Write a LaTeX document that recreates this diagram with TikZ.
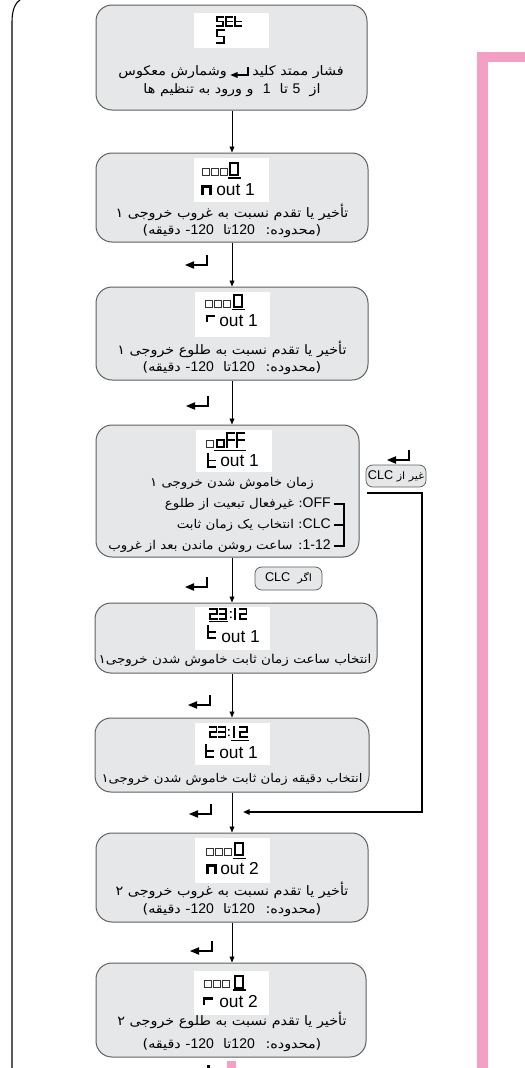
\documentclass[tikz,border=0pt]{standalone}
\usepackage{fontspec}
\setmainfont{Liberation Sans}
\newfontfamily\fa[Script=Arabic,FakeStretch=1.1]{DejaVu Sans}
\TeXXeTstate=1
\usetikzlibrary{arrows.meta,fit}
\definecolor{boxfill}{RGB}{230,231,232}
\definecolor{boxline}{RGB}{95,95,95}
\definecolor{pinkc}{RGB}{244,160,196}
\newcommand\fatext{\fa\fontsize{9.8}{11}\selectfont}
\newcommand\fasmall{\fa\fontsize{9.1}{11}\selectfont}
\newcommand\lat[1]{{\rmfamily\fontsize{10.5}{11}\selectfont #1}}
\newcommand\latl[1]{{\rmfamily\fontsize{9.5}{10}\selectfont #1}}
\newcommand\sga{\draw (0,0)--(\SW,0);}
\newcommand\sgb{\draw (\SW,0)--(\SW,\SH/2);}
\newcommand\sgc{\draw (\SW,\SH/2)--(\SW,\SH);}
\newcommand\sgd{\draw (0,\SH)--(\SW,\SH);}
\newcommand\sge{\draw (0,\SH/2)--(0,\SH);}
\newcommand\sgf{\draw (0,0)--(0,\SH/2);}
\newcommand\sgg{\draw (0,\SH/2)--(\SW,\SH/2);}
\newcommand\dseg[6]{\begin{scope}[shift={(#1,#2)},line cap=rect,#6]\def\SW{#3}\def\SH{#4}\foreach \s in {#5}{\csname sg\s\endcsname}\end{scope}}
\newcommand\sqr[2]{\draw[line width=0.45pt,black!80] (#1,#2) rectangle ++(7,7);}
\tikzset{
  stepbox/.style={draw=boxline, fill=boxfill, line width=0.75pt, rounded corners=12pt, inner sep=0pt},
  lblbox/.style={draw=boxline, fill=boxfill, line width=0.6pt, rounded corners=5pt, inner sep=0pt},
  disp/.style={fill=white, draw=none, inner sep=0pt},
  flow/.style={-{Triangle[length=4.5pt,width=3.6pt]}, line width=0.7pt},
  loopline/.style={line width=1.3pt},
  txt/.style={inner sep=0pt, font=\fatext},
  lbltxt/.style={inner sep=0pt, font=\fa\fontsize{7.6}{9}\selectfont},
  outtxt/.style={inner sep=0pt, anchor=west, font=\rmfamily\fontsize{13}{13}\selectfont},
  thin7/.style={line width=0.85pt},
  bold7/.style={line width=1.5pt},
  pics/enterkey/.style={code={
    \draw[line width=1.5pt] (0,-10)--(0,0)--(-14,0);
    \fill (-13,-3.8)--(-22,0)--(-13,3.8)--cycle;}}
}
\begin{document}
\begin{tikzpicture}[x=0.75pt,y=-0.75pt]
\useasboundingbox (0,0) rectangle (525,1068);
% frame and decorations
\draw[line width=0.8pt] (12,1068) -- (12,22) .. controls (12,10) and (15,3) .. (21,-1);
\fill[pinkc] (477,52) rectangle (525,62);
\fill[pinkc] (477,52) rectangle (488,1068);
\fill[pinkc] (227,1061) rectangle (236,1068);
\fill (207,1065) rectangle (210,1068);
\coordinate (ax) at (232,0);

% ---------- box 1
\node[stepbox, fit={(96,5)(367,110)}] (b1) {};
\node[disp, fit={(194,13)(269,48)}] (d1) {};
\dseg{217}{17}{6}{9}{a,f,g,c,d}{thin7}
\dseg{226}{17}{6}{9}{a,f,g,e,d}{thin7}
\dseg{235}{17}{6}{9}{f,e,g,d}{thin7}
\dseg{217}{30}{7}{13}{a,f,g,c,d}{thin7}
\pic[scale=0.8] at (248,75) {enterkey};
\node[txt, anchor=west] (t1r) at (252,72) {\beginR فشار ممتد کلید\endR};
\node[txt, anchor=east] (t1l) at (227,72) {\beginR وشمارش معکوس\endR};
\node[txt] (t1b) at (232,90) {\beginR از \ \lat{5} تا \ \lat{1} \ و ورود به تنظیم ها\endR};

% ---------- box 2
\node[stepbox, fit={(96,153)(368,242)}] (b2) {};
\node[disp, fit={(194,158)(269,202)}] (d2) {};
\sqr{202}{168.5}\sqr{211}{168.5}\sqr{220}{168.5}
\dseg{230}{163}{8}{11.5}{a,b,c,d,e,f}{bold7}
\draw[line width=1.2pt] (228,178) -- (241,178);
\draw[line width=1.9pt] (202.5,194.5) -- (202.5,186.5) -- (210.5,186.5) -- (210.5,194.5);
\node[outtxt] (o2) at (216,190) {out 1};
\node[txt] (t2a) at (232,212) {\beginR تأخیر یا تقدم نسبت به غروب خروجی ۱\endR};
\node[txt] (t2b) at (232,231) {\beginR(محدوده: \ \lat{120}تا \ \lat{120}- دقیقه)\endR};

% ---------- box 3
\node[stepbox, fit={(96,287)(368,380)}] (b3) {};
\node[disp, fit={(195,292)(270,337)}] (d3) {};
\sqr{205}{300}\sqr{214}{300}\sqr{223}{300}
\dseg{234}{295}{8}{11.5}{a,b,c,d,e,f}{bold7}
\draw[line width=1.2pt] (232,309.5) -- (245,309.5);
\draw[line width=1.9pt] (207,322) -- (207,316) -- (215,316);
\node[outtxt] (o3) at (219,321) {out 1};
\node[txt] (t3a) at (232,349) {\beginR تأخیر یا تقدم نسبت به طلوع خروجی ۱\endR};
\node[txt] (t3b) at (232,368) {\beginR(محدوده: \ \lat{120}تا \ \lat{120}- دقیقه)\endR};

% ---------- box 4
\node[stepbox, fit={(96,425)(359,557)}] (b4) {};
\node[disp, fit={(196,430)(272,472)}] (d4) {};
\sqr{206}{440}
\dseg{217}{433}{7}{14}{g,c,d,e}{bold7}
\dseg{227}{433}{7}{14}{a,f,g,e}{bold7}
\dseg{237}{433}{7}{14}{a,f,g,e}{bold7}
\draw[line width=1.2pt] (214,450.5) -- (246,450.5);
\dseg{208}{454}{7}{13}{f,e,g,d}{thin7}
\node[outtxt] (o4) at (220,461) {out 1};
\node[txt, font=\fasmall] (t4a) at (232,483) {\beginR زمان خاموش شدن خروجی ۱\endR};
\node[txt, font=\fasmall, anchor=east] (t4b) at (331,504) {\beginR\lat{OFF}: غیرفعال تبعیت از طلوع\endR};
\node[txt, font=\fasmall, anchor=east] (t4c) at (331,525) {\beginR\lat{CLC}: انتخاب یک زمان ثابت\endR};
\node[txt, font=\fasmall, anchor=east] (t4d) at (331,546) {\beginR\lat{1-12}: ساعت روشن ماندن بعد از غروب\endR};
\draw[line width=0.8pt] (334,504) -- (344,504) -- (344,546) -- (334,546);
\draw[line width=0.8pt] (334,525) -- (344,525);

% side branch
\node[lblbox, fit={(366,465)(426,487)}] (l1) {};
\node[lbltxt] (l1t) at (l1) {\beginR غیر از \latl{CLC}\endR};
\pic at (409,460) {enterkey};
\coordinate (c1) at (367,493);
\coordinate (c2) at (422,812);
\coordinate (j) at (243,812);

% ---------- box 5
\node[lblbox, fit={(255,567)(322,590)}] (l2) {};
\node[lbltxt] (l2t) at (l2) {\beginR اگر \ \latl{CLC}\endR};
\node[stepbox, fit={(95,603)(377,673)}] (b5) {};
\node[disp, fit={(195,607)(270,650)}] (d5) {};
\dseg{210}{609}{6.5}{10}{a,b,g,e,d}{bold7}
\dseg{219.5}{609}{6.5}{10}{a,b,g,c,d}{bold7}
\draw[line width=1.2pt] (209,621.5) -- (228,621.5);
\fill (230,611) rectangle ++(1.5,1.5) (230,616.5) rectangle ++(1.5,1.5);
\dseg{235}{609}{0}{10}{b,c}{thin7}
\dseg{240}{609}{6.5}{10}{a,b,g,e,d}{thin7}
\dseg{208}{626}{7}{12}{f,e,g,d}{thin7}
\node[outtxt] (o5) at (221,637) {out 1};
\node[txt, font=\fa\fontsize{9.2}{11}\selectfont] (t5a) at (235,660) {\beginR انتخاب ساعت زمان ثابت خاموش شدن خروجی۱\endR};

% ---------- box 6
\node[stepbox, fit={(95,718)(369,792)}] (b6) {};
\node[disp, fit={(195,723)(270,765)}] (d6) {};
\dseg{210}{727}{6.5}{10}{a,b,g,e,d}{thin7}
\dseg{219}{727}{6.5}{10}{a,b,g,c,d}{thin7}
\fill (228,729) rectangle ++(1.5,1.5) (228,734.5) rectangle ++(1.5,1.5);
\dseg{234}{727}{0}{10}{b,c}{bold7}
\dseg{239.5}{727}{7}{10}{a,b,g,e,d}{bold7}
\draw[line width=1.2pt] (231,740.5) -- (249,740.5);
\dseg{206}{745}{7}{12}{f,e,g,d}{thin7}
\node[outtxt] (o6) at (219,753) {out 1};
\node[txt, font=\fa\fontsize{9.0}{11}\selectfont] (t6a) at (232,779) {\beginR انتخاب دقیقه زمان ثابت خاموش شدن خروجی۱\endR};

% ---------- box 7
\node[stepbox, fit={(96,833)(368,922)}] (b7) {};
\node[disp, fit={(195,838)(270,883)}] (d7) {};
\sqr{206}{848.5}\sqr{215}{848.5}\sqr{224}{848.5}
\dseg{235}{843}{8}{12}{a,b,c,d,e,f}{bold7}
\draw[line width=1.2pt] (233,858.5) -- (246,858.5);
\draw[line width=1.9pt] (207.5,873.5) -- (207.5,865.5) -- (215.5,865.5) -- (215.5,873.5);
\node[outtxt] (o7) at (220,869) {out 2};
\node[txt] (t7a) at (232,890) {\beginR تأخیر یا تقدم نسبت به غروب خروجی ۲\endR};
\node[txt] (t7b) at (232,910) {\beginR(محدوده: \ \lat{120}تا \ \lat{120}- دقیقه)\endR};

% ---------- box 8
\node[stepbox, fit={(96,963)(366,1057)}] (b8) {};
\node[disp, fit={(194,971)(269,1015)}] (d8) {};
\sqr{204}{980.5}\sqr{213}{980.5}\sqr{222}{980.5}
\dseg{235}{976}{8}{11.5}{a,b,c,d,e,f}{bold7}
\draw[line width=1.2pt] (233,990) -- (246,990);
\draw[line width=1.9pt] (204,1005) -- (204,998.5) -- (213,998.5);
\node[outtxt] (o8) at (219,1002) {out 2};
\node[txt] (t8a) at (232,1020) {\beginR تأخیر یا تقدم نسبت به طلوع خروجی ۲\endR};
\node[txt] (t8b) at (232,1045) {\beginR(محدوده: \ \lat{120}تا \ \lat{120}- دقیقه)\endR};

% ---------- flow
\draw[flow] (b1.south -| ax) -- (b2.north -| ax);
\draw[flow] (b2.south -| ax) -- (b3.north -| ax);
\draw[flow] (b3.south -| ax) -- (b4.north -| ax);
\draw[flow] (b4.south -| ax) -- (b5.north -| ax);
\draw[flow] (b5.south -| ax) -- (b6.north -| ax);
\draw[flow] (b6.south -| ax) -- (b7.north -| ax);
\draw[flow] (b7.south -| ax) -- (b8.north -| ax);
\draw[loopline, -{Triangle[length=5pt,width=4pt]}] (c1) -- (c1 -| c2) -- (c2) -- (j);

\pic at (207,265) {enterkey};
\pic at (208,406) {enterkey};
\pic at (207,587) {enterkey};
\pic at (210,705) {enterkey};
\pic at (211,814) {enterkey};
\pic at (212,951) {enterkey};
\end{tikzpicture}
\end{document}
